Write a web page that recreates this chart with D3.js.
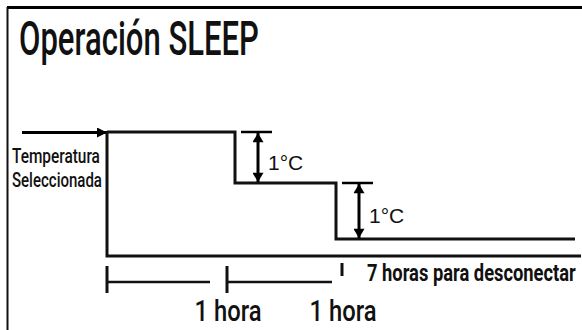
<!DOCTYPE html>
<html><head><meta charset="utf-8">
<script src="https://cdn.jsdelivr.net/npm/d3@7"></script>
<style>
html,body{margin:0;padding:0;background:#fff;}
svg{display:block;}
.cond{font-family:Roboto,"Noto Sans","DejaVu Sans",sans-serif;}
</style></head>
<body>
<svg id="chart" width="582" height="330"></svg>
<script>
// ---- data ----
const title = "Operación SLEEP";
const setpointLabel = ["Temperatura", "Seleccionada"];
const stepHours = [0, 1, 2, 7];          // time (h) at which each level starts, plus end
const tempOffsets = [0, -1, -2, -2];     // °C relative to selected temperature
const dropLabel = "1°C";
const timelineHours = [0, 1, 2];
const hourLabels = ["1 hora", "1 hora"]; // under ticks at 1 h and 2 h
const offLabel = "7 horas para desconectar";

// ---- layout ----
const W = 582, H = 330;
const svg = d3.select("#chart");
svg.append("rect").attr("width", W).attr("height", H).attr("fill", "#fff");

const x = d3.scaleLinear().domain([0, 1, 2, 7]).range([107, 235, 336, 575]);
const y = d3.scaleLinear().domain([0, -1, -2]).range([132, 183, 239]);
const xt = d3.scaleLinear().domain([0, 1, 2]).range([107, 227, 342]);
const yBase = 256;

// condensed text: draw at natural size, then squeeze horizontally to a target width
function condText(parent, str, px, py, size, weight, width, anchor) {
  const t = parent.append("text").attr("class", "cond").attr("x", 0).attr("y", 0)
    .attr("font-size", size).attr("font-weight", weight).attr("fill", "#111").text(str);
  const nat = t.node().getComputedTextLength();
  const sx = width / nat;
  const left = anchor === "middle" ? px - width / 2 : px;
  t.attr("transform", `translate(${left},${py}) scale(${sx},1)`);
  return t;
}

// frame (top + left borders)
svg.append("line").attr("x1", 7).attr("x2", W).attr("y1", 7.5).attr("y2", 7.5)
  .attr("stroke", "#000").attr("stroke-width", 3);
svg.append("line").attr("x1", 7.5).attr("x2", 7.5).attr("y1", 7).attr("y2", H)
  .attr("stroke", "#111").attr("stroke-width", 2);

// title
condText(svg, title, 19, 55, 49, 500, 240);

// setpoint label
setpointLabel.forEach((s, i) => condText(svg, s, 12, 163 + i * 23.5, 20.5, 500, i ? 90 : 88));

// arrow into the setpoint
const defs = svg.append("defs");
defs.append("marker").attr("id", "ah").attr("viewBox", "0 0 10 10")
  .attr("refX", 10).attr("refY", 5).attr("markerWidth", 10).attr("markerHeight", 10)
  .attr("markerUnits", "userSpaceOnUse").attr("orient", "auto-start-reverse")
  .append("path").attr("d", "M0,0L10,5L0,10Z").attr("fill", "#000");
defs.append("marker").attr("id", "ah2").attr("viewBox", "0 0 10 12")
  .attr("refX", 10).attr("refY", 6).attr("markerWidth", 12).attr("markerHeight", 11)
  .attr("markerUnits", "userSpaceOnUse").attr("orient", "auto-start-reverse")
  .append("path").attr("d", "M0,0L10,6L0,12Z").attr("fill", "#000");

svg.append("line").attr("x1", 22).attr("x2", x(0)).attr("y1", y(0) + 0.5).attr("y2", y(0) + 0.5)
  .attr("stroke", "#000").attr("stroke-width", 3).attr("marker-end", "url(#ah)");

// baseline: drop from setpoint and run to the right
svg.append("path")
  .attr("d", `M${x(0)},${y(0)}V${yBase}H${W - 1}`)
  .attr("fill", "none").attr("stroke", "#111").attr("stroke-width", 3);

// temperature steps
const pts = stepHours.map((h, i) => [x(h), y(tempOffsets[i])]);
svg.append("path").datum(pts)
  .attr("d", d3.line().curve(d3.curveStepAfter))
  .attr("fill", "none").attr("stroke", "#111").attr("stroke-width", 3)
  .attr("stroke-linejoin", "miter");

// 1°C drop annotations
const drops = stepHours.slice(1, 3).map((h, i) => ({
  h, from: tempOffsets[i], to: tempOffsets[i + 1]
}));
const ann = svg.selectAll("g.drop").data(drops).join("g").attr("class", "drop");
ann.append("line")
  .attr("x1", d => x(d.h) + 6).attr("x2", d => x(d.h) + 37)
  .attr("y1", d => y(d.from)).attr("y2", d => y(d.from))
  .attr("stroke", "#000").attr("stroke-width", 2.5);
ann.append("line")
  .attr("x1", d => x(d.h) + 23).attr("x2", d => x(d.h) + 23)
  .attr("y1", d => y(d.from) + 1).attr("y2", d => y(d.to) - 1)
  .attr("stroke", "#000").attr("stroke-width", 3)
  .attr("marker-start", "url(#ah2)").attr("marker-end", "url(#ah2)");
ann.append("text")
  .attr("x", d => x(d.h) + 33).attr("y", d => (y(d.from) + y(d.to)) / 2 + 12)
  .attr("font-family", "'Liberation Sans', Arial, sans-serif").attr("font-size", 21)
  .attr("fill", "#111").text(dropLabel);

// timeline
const segEnds = [210, 332];
const tl = svg.append("g");
tl.selectAll("line.tick").data(timelineHours).join("line").attr("class", "tick")
  .attr("x1", d => xt(d)).attr("x2", d => xt(d))
  .attr("y1", (d, i) => i === 2 ? 263 : 266).attr("y2", (d, i) => i === 2 ? 276 : 293)
  .attr("stroke", "#111").attr("stroke-width", 3);
tl.selectAll("line.seg").data(timelineHours.slice(0, 2)).join("line").attr("class", "seg")
  .attr("x1", d => xt(d)).attr("x2", (d, i) => segEnds[i])
  .attr("y1", 282).attr("y2", 282)
  .attr("stroke", "#111").attr("stroke-width", 2.5);

hourLabels.forEach((s, i) => condText(tl, s, xt(i + 1) + 1, 321, 30, 500, 67, "middle"));

condText(tl, offLabel, 367, 281, 24.5, "bold", 209);
</script>
</body></html>
